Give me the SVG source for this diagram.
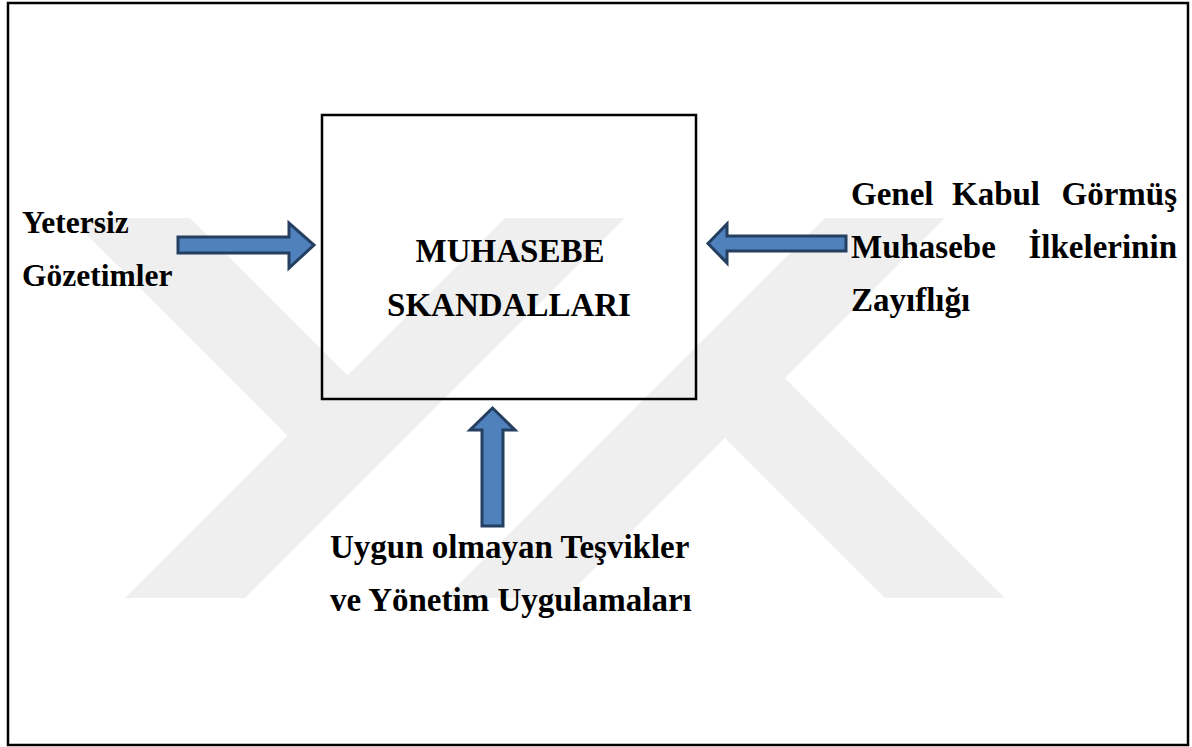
<svg xmlns="http://www.w3.org/2000/svg" width="1192" height="747" viewBox="0 0 1192 747">
<style>
.t{font-family:"Liberation Serif","Times New Roman",serif;font-weight:bold;font-size:33px;fill:#000}
.s{font-size:31.5px}
.arr{fill:#4F81BD;stroke:#243F60;stroke-width:3;stroke-linejoin:miter}
.wm{fill:#efefef}
</style>
<rect x="0" y="0" width="1192" height="747" fill="#fff"/>
<g id="watermark">
<polygon class="wm" points="70,218 190,218 407.5,435.5 287.5,435.5"/>
<polygon class="wm" points="505,218 625,218 245,598 125,598"/>
<polygon class="wm" points="825,218 945,218 565,598 445,598"/>
<polygon class="wm" points="665,378 785,378 1005,598 885,598"/>
</g>
<rect id="frame" x="8" y="3" width="1180" height="742" fill="none" stroke="#000" stroke-width="2.5"/>
<g id="box">
<rect x="322" y="115" width="374" height="284" fill="none" stroke="#000" stroke-width="2.5"/>
<text class="t" x="510" y="262" text-anchor="middle">MUHASEBE</text>
<text class="t" x="509" y="316" text-anchor="middle">SKANDALLARI</text>
</g>
<g id="left">
<text class="t s" x="22" y="233">Yetersiz</text>
<text class="t s" x="22" y="286">Gözetimler</text>
</g>
<g id="right">
<text class="t" y="205"><tspan x="851">Genel</tspan><tspan x="952">Kabul</tspan><tspan x="1177" text-anchor="end">Görmüş</tspan></text>
<text class="t" y="258"><tspan x="851">Muhasebe</tspan><tspan x="1177" text-anchor="end">İlkelerinin</tspan></text>
<text class="t" x="851" y="311">Zayıflığı</text>
</g>
<g id="bottom">
<text class="t" x="330" y="558">Uygun olmayan Teşvikler</text>
<text class="t" x="330" y="611">ve Yönetim Uygulamaları</text>
</g>
<g id="connectors">
<polygon class="arr" points="178,237 289,237 289,223 314,245 289,268 289,253 178,253"/>
<polygon class="arr" points="846,236 727,236 727,224 708,243.5 727,263 727,251 846,251"/>
<polygon class="arr" points="482,526 482,430 470,430 492.5,408 515,430 503,430 503,526"/>
</g>
</svg>
